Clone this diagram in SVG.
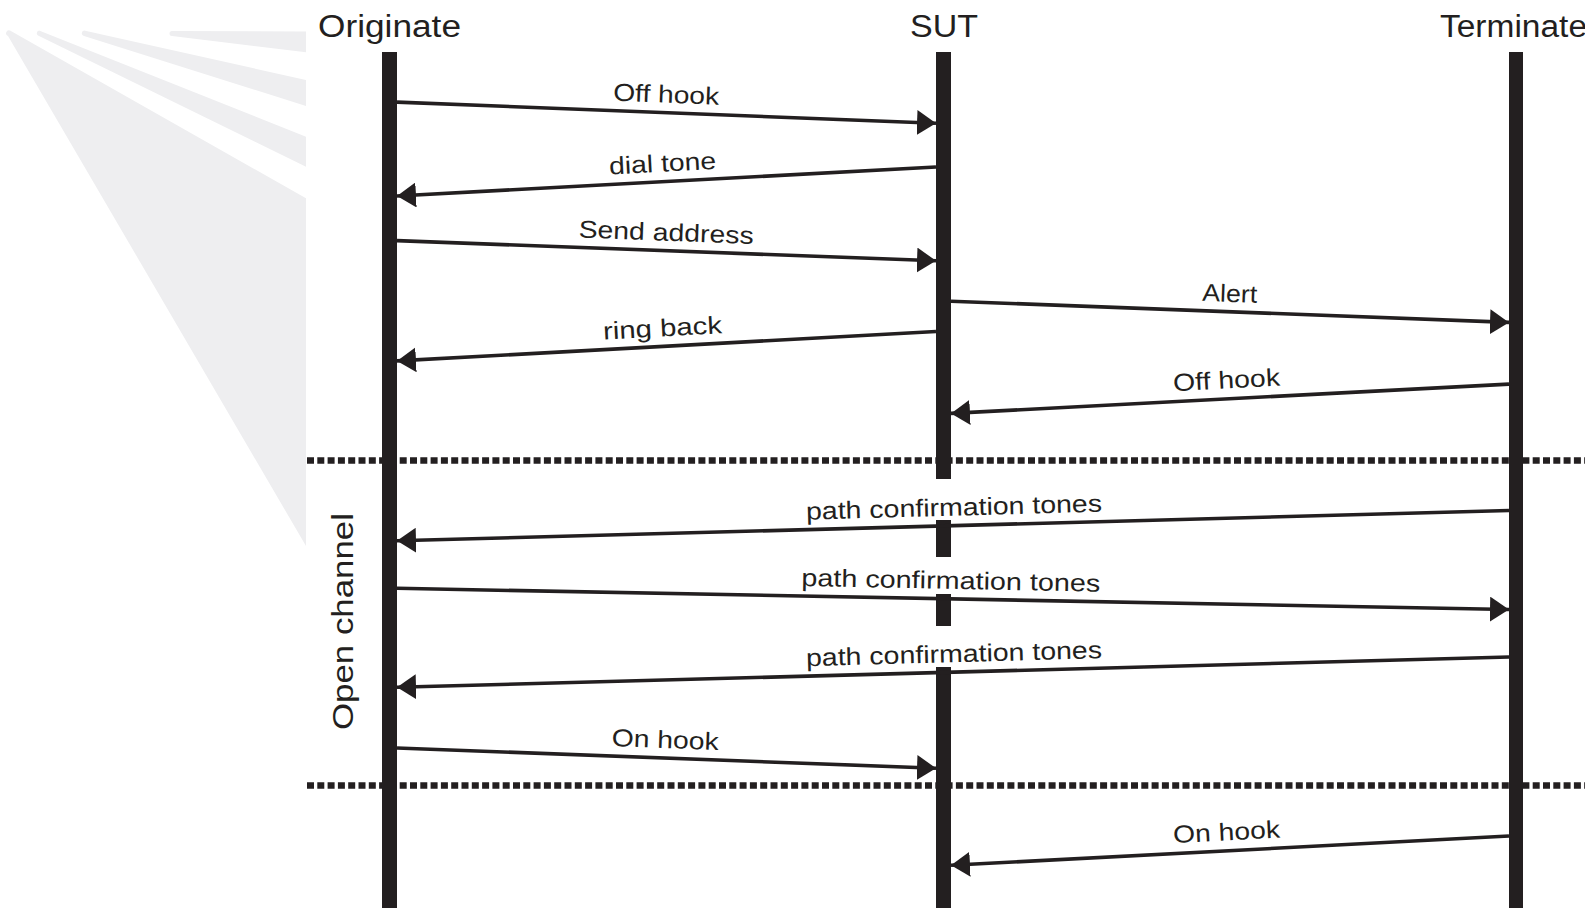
<svg xmlns="http://www.w3.org/2000/svg" width="1585" height="908" viewBox="0 0 1585 908">
<style>
.fan{fill:#eeeef0;stroke:none}
.life{fill:#231f20;stroke:none}
.title{font-family:"Liberation Sans",Arial,sans-serif;font-size:31px;fill:#231f20}
.lbl{font-family:"Liberation Sans",Arial,sans-serif;font-size:24.5px;fill:#231f20;text-anchor:middle}
.msg{stroke:#231f20;stroke-width:3.6;fill:none;marker-end:url(#ah)}
.sep{stroke:#231f20;stroke-width:6.5;stroke-dasharray:7 3.3;fill:none}
</style>
<defs>
<marker id="ah" markerUnits="userSpaceOnUse" markerWidth="20" markerHeight="25" refX="19" refY="12.5" orient="auto" viewBox="0 0 20 25">
<path d="M0,0 L19,12.5 L0,25 Z" fill="#231f20"/>
</marker>
</defs>
<rect width="1585" height="908" fill="#ffffff"/>
<g id="background-fan">
<path class="fan" d="M172,31 L306,31.5 L306,52.3 L172,36 A2.5,2.5 0 0 1 172,31 Z"/>
<path class="fan" d="M84,30.5 L306,80 L306,106 L84,36 A2.8,2.8 0 0 1 84,30.5 Z"/>
<path class="fan" d="M39,30.5 L306,136.7 L306,166.7 L39,36 A2.8,2.8 0 0 1 39,30.5 Z"/>
<path class="fan" d="M10,30.5 L306,198.3 L306,546 L8,36 A2.8,2.8 0 0 1 10,30.5 Z"/>
</g>
<g id="separators">
<line class="sep" x1="307" y1="460.5" x2="1585" y2="460.5"/>
<line class="sep" x1="307" y1="785.5" x2="1585" y2="785.5"/>
</g>
<g id="originate">
<text class="title" x="318" y="37" textLength="143" lengthAdjust="spacingAndGlyphs">Originate</text>
<rect class="life" x="382" y="52" width="15" height="856"/>
</g>
<g id="sut">
<text class="title" x="910" y="37" textLength="68" lengthAdjust="spacingAndGlyphs">SUT</text>
<rect class="life" x="936" y="52" width="15" height="427"/>
<rect class="life" x="936" y="520" width="15" height="37"/>
<rect class="life" x="936" y="594" width="15" height="32"/>
<rect class="life" x="936" y="667" width="15" height="241"/>
</g>
<g id="terminate">
<text class="title" x="1440" y="37" textLength="147" lengthAdjust="spacingAndGlyphs">Terminate</text>
<rect class="life" x="1509" y="52" width="14" height="856"/>
</g>
<g id="open-channel">
<text class="title" style="font-size:29px;text-anchor:middle" transform="translate(353,621.5) rotate(-90)" x="0" y="0" textLength="217" lengthAdjust="spacingAndGlyphs">Open channel</text>
</g>
<g id="connectors">
<line class="msg" x1="397" y1="102.1" x2="936" y2="123.3"/>
<text class="lbl" transform="translate(666.5,112.7) rotate(2.25)" x="-1" y="-10" textLength="106" lengthAdjust="spacingAndGlyphs">Off hook</text>
<line class="msg" x1="936" y1="167" x2="397" y2="196"/>
<text class="lbl" transform="translate(666.5,181.5) rotate(-3.08)" x="-3" y="-10" textLength="107" lengthAdjust="spacingAndGlyphs">dial tone</text>
<line class="msg" x1="397" y1="240.6" x2="936" y2="260.8"/>
<text class="lbl" transform="translate(666.5,250.7) rotate(2.15)" x="-1" y="-10" textLength="175" lengthAdjust="spacingAndGlyphs">Send address</text>
<line class="msg" x1="951" y1="301.2" x2="1509" y2="322.4"/>
<text class="lbl" transform="translate(1230,311.8) rotate(2.18)" x="-1" y="-10" textLength="55" lengthAdjust="spacingAndGlyphs">Alert</text>
<line class="msg" x1="936" y1="331.5" x2="397" y2="360.9"/>
<text class="lbl" transform="translate(666.5,346.2) rotate(-3.12)" x="-3" y="-10" textLength="119" lengthAdjust="spacingAndGlyphs">ring back</text>
<line class="msg" x1="1509" y1="384.1" x2="951" y2="413.4"/>
<text class="lbl" transform="translate(1230,398.75) rotate(-3.0)" x="-2.5" y="-10.5" textLength="107" lengthAdjust="spacingAndGlyphs">Off hook</text>
<line class="msg" x1="1509" y1="510.5" x2="397" y2="540.8"/>
<text class="lbl" transform="translate(953,525.65) rotate(-1.56)" x="1.5" y="-10" textLength="296" lengthAdjust="spacingAndGlyphs">path confirmation tones</text>
<line class="msg" x1="397" y1="588.3" x2="1509" y2="609.5"/>
<text class="lbl" transform="translate(953,598.9) rotate(1.09)" x="-2.5" y="-10" textLength="299" lengthAdjust="spacingAndGlyphs">path confirmation tones</text>
<line class="msg" x1="1509" y1="657" x2="397" y2="687.3"/>
<text class="lbl" transform="translate(953,672.15) rotate(-1.56)" x="1.5" y="-10" textLength="296" lengthAdjust="spacingAndGlyphs">path confirmation tones</text>
<line class="msg" x1="397" y1="748" x2="936" y2="768.2"/>
<text class="lbl" transform="translate(666.5,758.1) rotate(2.15)" x="-2" y="-10" textLength="107" lengthAdjust="spacingAndGlyphs">On hook</text>
<line class="msg" x1="1509" y1="836" x2="951" y2="865.3"/>
<text class="lbl" transform="translate(1230,850.65) rotate(-3.0)" x="-2.5" y="-10.5" textLength="107" lengthAdjust="spacingAndGlyphs">On hook</text>
</g>
</svg>
